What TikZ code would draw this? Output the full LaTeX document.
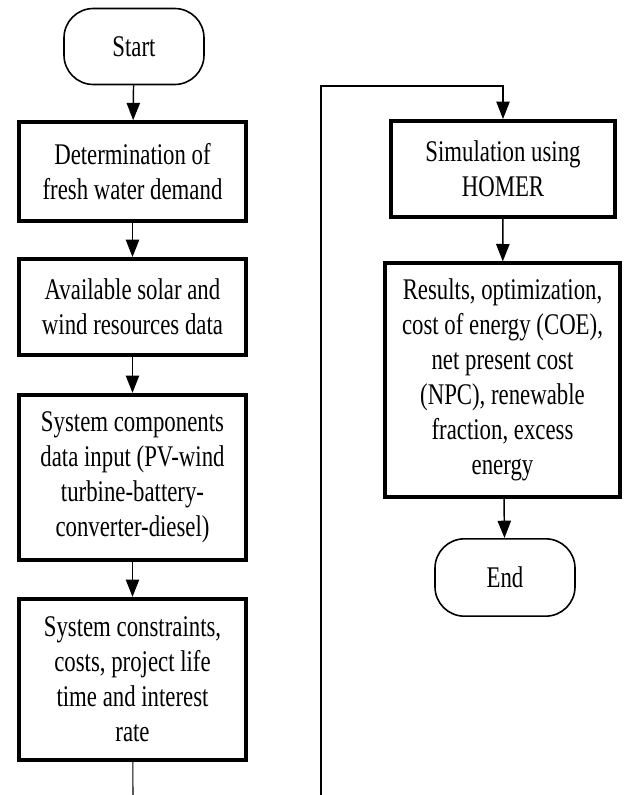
\documentclass[tikz,border=0pt]{standalone}
\usepackage{fontspec}
\setmainfont[FakeStretch=0.76]{Liberation Serif}
\usetikzlibrary{arrows.meta}
\begin{document}
\begin{tikzpicture}[x=0.75pt,y=-0.75pt,>={Triangle[width=10pt,length=13pt]},
  font=\fontsize{22.5}{26.25}\selectfont,
  box/.style={draw,line width=3pt,align=center,inner sep=0pt},
  term/.style={draw,line width=1.2pt,rounded corners=22pt,align=center,inner sep=0pt,
    minimum width=105pt,minimum height=57pt},
  flow/.style={->,line width=1.1pt}]
\useasboundingbox (0,0) rectangle (625,795);
% left column
\node[term] (start) at (134,46.5) {Start};
\node[box,minimum width=170pt,minimum height=74pt] (demand) at (132.5,171.5)
  {Determination of\\fresh water demand};
\node[box,minimum width=170pt,minimum height=72pt] (resources) at (132.5,307)
  {Available solar and\\wind resources data};
\node[box,minimum width=170pt,minimum height=124pt] (components) at (132.5,477.5)
  {System components\\data input (PV-wind\\turbine-battery-\\converter-diesel)};
\node[box,minimum width=170pt,minimum height=121pt] (constraints) at (132.5,679.5)
  {System constraints,\\costs, project life\\time and interest\\rate};
% right column
\node[box,minimum width=168pt,minimum height=72pt] (homer) at (503,169)
  {Simulation using\\HOMER};
\node[box,minimum width=176pt,minimum height=175pt] (results) at (502.5,380)
  {Results, optimization,\\cost of energy (COE),\\net present cost\\(NPC), renewable\\fraction, excess\\energy};
\node[term,minimum height=58pt] (end) at (505,577.5) {End};
\draw[flow] (start) -- (demand);
\draw[flow] (demand) -- (resources);
\draw[flow] (resources) -- (components);
\draw[flow] (components) -- (constraints);
\draw[flow] (homer) -- (results);
\draw[flow] (results) -- (end);
% loop back to the top of the right column
\coordinate (loopa) at (133,795);
\coordinate (loopb) at (321,795);
\coordinate (loopc) at (321,86);
\draw[line width=0.8pt] (constraints) -- (loopa);
\draw[->,line width=0.8pt] (loopb) -- (loopc) -| (homer);
\end{tikzpicture}
\end{document}
